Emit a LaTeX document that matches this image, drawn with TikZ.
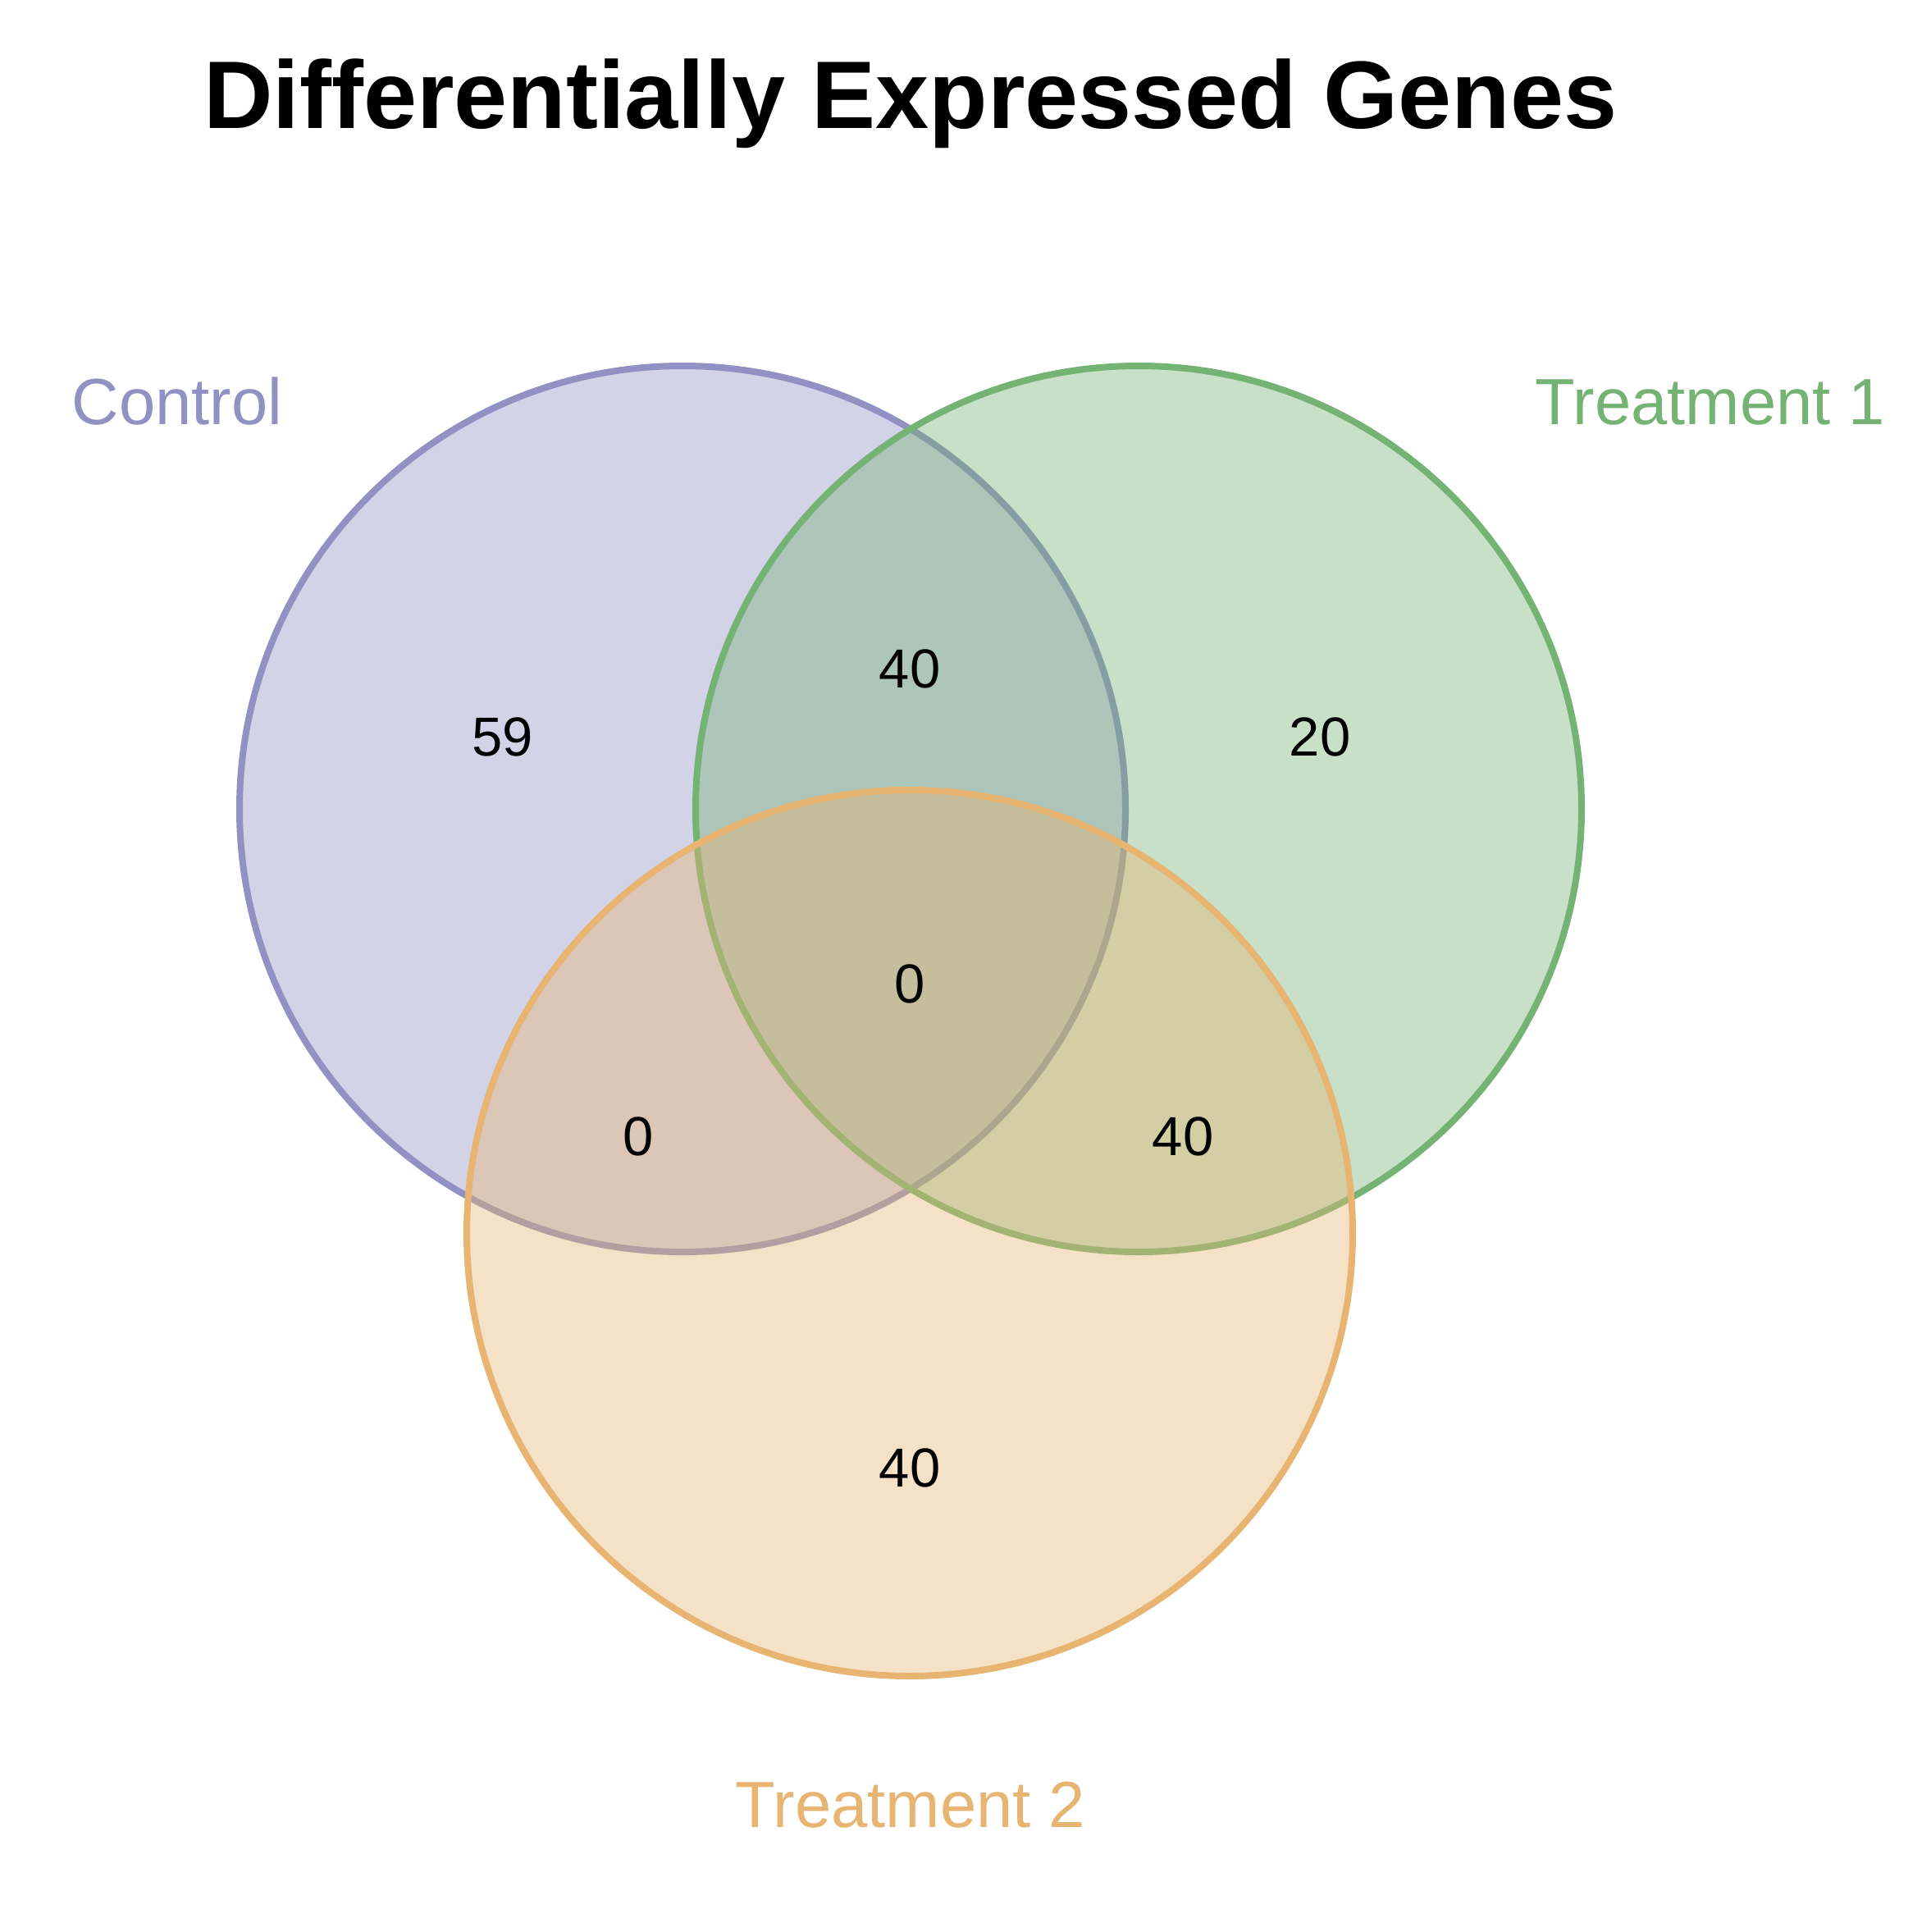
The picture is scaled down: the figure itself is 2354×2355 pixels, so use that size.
\documentclass[tikz,border=0pt]{standalone}
\usepackage{fontspec}
\setmainfont{Liberation Sans}
\definecolor{ctrl}{RGB}{145,145,195}
\definecolor{tone}{RGB}{117,179,117}
\definecolor{ttwo}{RGB}{232,180,114}
\begin{document}
\begin{tikzpicture}[x=0.25pt,y=-0.25pt,
  setcircle/.style={line width=2pt,fill opacity=0.4},
  numlabel/.style={anchor=base,inner sep=0pt,font=\fontsize{16.75}{20}\selectfont,text=black},
  setlabel/.style={anchor=base,inner sep=0pt,font=\fontsize{19.9}{24}\selectfont},
  titlelabel/.style={anchor=base,inner sep=0pt,font=\fontsize{29.25}{34}\selectfont\bfseries}]
\useasboundingbox[fill=white] (0,0) rectangle (2354,2355);
\coordinate (cC) at (832,986);
\coordinate (cA) at (1388,986);
\coordinate (cB) at (1109,1503);
\filldraw[setcircle,draw=ctrl,fill=ctrl] (cC) circle[radius=540];
\filldraw[setcircle,draw=tone,fill=tone] (cA) circle[radius=540];
\filldraw[setcircle,draw=ttwo,fill=ttwo] (cB) circle[radius=540];
\node[titlelabel] (title) at (1110,156) {Differentially Expressed Genes};
\node[setlabel,text=ctrl] (lC) at (216,517) {Control};
\node[setlabel,text=tone] (lA) at (2085,517) {Treatment 1};
\node[setlabel,text=ttwo] (lB) at (1110,2227) {Treatment 2};
\node[numlabel] (n100) at (613,921) {59};
\node[numlabel] (n110) at (1109,838) {40};
\node[numlabel] (n010) at (1609,921) {20};
\node[numlabel] (n111) at (1109,1222) {0};
\node[numlabel] (n101) at (778,1408) {0};
\node[numlabel] (n011) at (1442,1408) {40};
\node[numlabel] (n001) at (1109,1812) {40};
\end{tikzpicture}
\end{document}
